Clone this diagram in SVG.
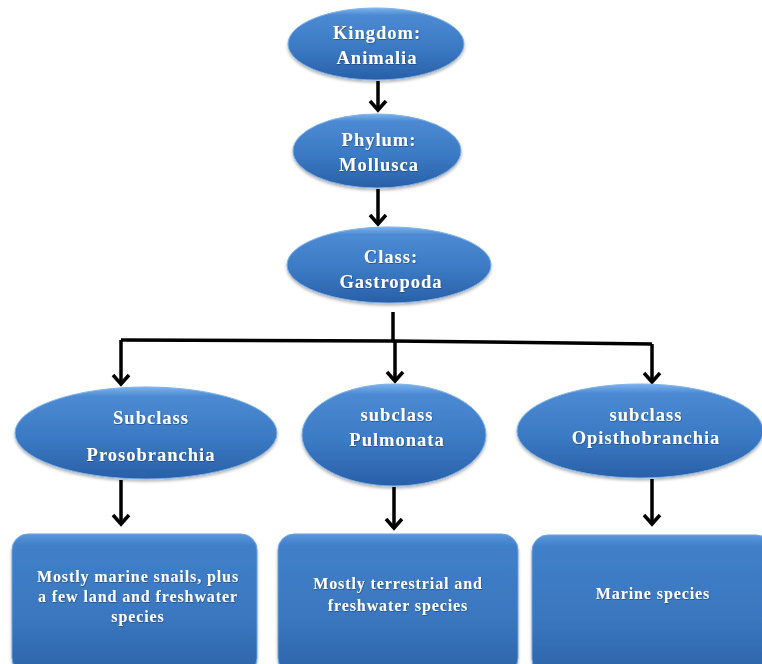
<svg xmlns="http://www.w3.org/2000/svg" width="762" height="664" viewBox="0 0 762 664">
<defs>
<linearGradient id="gE" x1="0" y1="0" x2="0" y2="1">
<stop offset="0" stop-color="#7ab2ec"/>
<stop offset="0.1" stop-color="#4c8ad3"/>
<stop offset="0.55" stop-color="#3b7ac4"/>
<stop offset="1" stop-color="#2960a8"/>
</linearGradient>
<linearGradient id="gB" x1="0" y1="0" x2="0" y2="1">
<stop offset="0" stop-color="#5a97dc"/>
<stop offset="0.08" stop-color="#4080c9"/>
<stop offset="0.6" stop-color="#3a77bf"/>
<stop offset="1" stop-color="#2c64a9"/>
</linearGradient>
<filter id="sh" x="-10%" y="-10%" width="120%" height="130%">
<feDropShadow dx="0" dy="2" stdDeviation="1.5" flood-color="#000" flood-opacity="0.3"/>
</filter>
<filter id="ts" x="-5%" y="-20%" width="110%" height="150%">
<feDropShadow dx="0.6" dy="0.8" stdDeviation="0.6" flood-color="#0a2a55" flood-opacity="0.6"/>
</filter>
</defs>
<style>
.e{fill:url(#gE);stroke:#7eb1e8;stroke-width:1;filter:url(#sh)}
.b{fill:url(#gB);stroke:#6fa3df;stroke-width:1;filter:url(#sh)}
.t{font-family:"Liberation Serif","Times New Roman",serif;font-weight:bold;fill:#fff;text-anchor:middle;filter:url(#ts)}
.tl{font-size:18.5px;letter-spacing:1px}
.ts{font-size:16px;letter-spacing:0.9px}
.c{fill:none;stroke:#000;stroke-width:3.5;stroke-linejoin:miter}
</style>
<rect width="762" height="664" fill="#fff"/>
<g id="connectors">
<path class="c" d="M378 81 V110"/><path class="c" d="M370 101 L378 110 L386 101"/>
<path class="c" d="M378 189 V224"/><path class="c" d="M370 215 L378 224 L386 215"/>
<path class="c" d="M393 312 V341"/>
<path class="c" d="M121 340 L393 341 L652 344"/>
<path class="c" d="M121 340 V384"/><path class="c" d="M113 375 L121 384 L129 375"/>
<path class="c" d="M395 341 V381"/><path class="c" d="M387 372 L395 381 L403 372"/>
<path class="c" d="M652 344 V382"/><path class="c" d="M644 373 L652 382 L660 373"/>
<path class="c" d="M121 480 V524"/><path class="c" d="M113 515 L121 524 L129 515"/>
<path class="c" d="M394 487 V528"/><path class="c" d="M386 519 L394 528 L402 519"/>
<path class="c" d="M652 479 V524"/><path class="c" d="M644 515 L652 524 L660 515"/>
</g>
<g id="kingdom">
<ellipse class="e" cx="376" cy="44" rx="88" ry="36"/>
<text class="t tl" x="377" y="39">Kingdom:</text>
<text class="t tl" x="377" y="64">Animalia</text>
</g>
<g id="phylum">
<ellipse class="e" cx="377" cy="151" rx="84" ry="37"/>
<text class="t tl" x="379" y="146">Phylum:</text>
<text class="t tl" x="379" y="171">Mollusca</text>
</g>
<g id="class">
<ellipse class="e" cx="389" cy="265" rx="102" ry="38"/>
<text class="t tl" x="391" y="263">Class:</text>
<text class="t tl" x="391" y="288">Gastropoda</text>
</g>
<g id="prosobranchia">
<ellipse class="e" cx="146" cy="433" rx="131" ry="46"/>
<text class="t tl" x="151" y="424">Subclass</text>
<text class="t tl" x="151" y="461">Prosobranchia</text>
</g>
<g id="pulmonata">
<ellipse class="e" cx="394" cy="435" rx="92" ry="51"/>
<text class="t tl" x="397" y="421">subclass</text>
<text class="t tl" x="397" y="446">Pulmonata</text>
</g>
<g id="opisthobranchia">
<ellipse class="e" cx="640" cy="431" rx="123" ry="47"/>
<text class="t tl" x="646" y="421">subclass</text>
<text class="t tl" x="646" y="444">Opisthobranchia</text>
</g>
<g id="box1">
<rect class="b" x="12" y="534" width="245" height="140" rx="16"/>
<text class="t ts" x="138" y="582">Mostly marine snails, plus</text>
<text class="t ts" x="138" y="602">a few land and freshwater</text>
<text class="t ts" x="138" y="622">species</text>
</g>
<g id="box2">
<rect class="b" x="278" y="534" width="240" height="140" rx="16"/>
<text class="t ts" x="398" y="589">Mostly terrestrial and</text>
<text class="t ts" x="398" y="611">freshwater species</text>
</g>
<g id="box3">
<rect class="b" x="532" y="535" width="240" height="140" rx="16"/>
<text class="t ts" x="653" y="599">Marine species</text>
</g>
</svg>
